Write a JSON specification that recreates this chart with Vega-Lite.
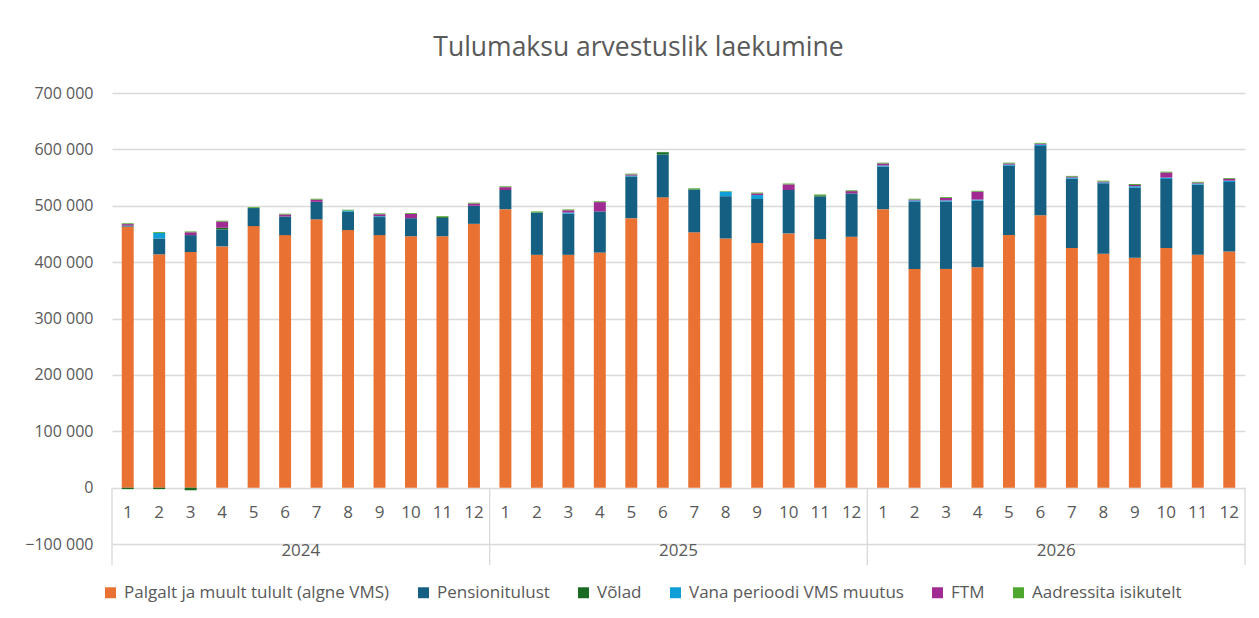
{
  "$schema": "https://vega.github.io/schema/vega-lite/v6.json",
  "width": 1133,
  "height": 472,
  "autosize": {"type": "none"},
  "padding": {"left": 112, "top": 93, "right": 14, "bottom": 53},
  "background": "white",
  "config": {
    "view": {"stroke": null},
    "font": "Open Sans",
    "text": {"font": "Open Sans"}
  },
  "title": {
    "text": "Tulumaksu arvestuslik laekumine",
    "fontSize": 26.5,
    "fontWeight": "normal",
    "color": "#595959",
    "font": "Open Sans",
    "anchor": "middle",
    "dx": -40,
    "offset": 24
  },
  "datasets": {
    "months": [
      {"ym": "2024-1", "m": 1, "pal": 463000, "pen": 2000, "vol": -2500, "vms": 0, "ftm": 2500, "aad": 1500},
      {"ym": "2024-2", "m": 2, "pal": 414000, "pen": 28000, "vol": -2500, "vms": 10000, "ftm": 0, "aad": 1500},
      {"ym": "2024-3", "m": 3, "pal": 418000, "pen": 30000, "vol": -4500, "vms": 0, "ftm": 5000, "aad": 1500},
      {"ym": "2024-4", "m": 4, "pal": 428000, "pen": 30000, "vol": 3000, "vms": 0, "ftm": 11000, "aad": 1500},
      {"ym": "2024-5", "m": 5, "pal": 464000, "pen": 32000, "vol": 0, "vms": 0, "ftm": 0, "aad": 1500},
      {"ym": "2024-6", "m": 6, "pal": 448000, "pen": 33000, "vol": 0, "vms": 0, "ftm": 3500, "aad": 1500},
      {"ym": "2024-7", "m": 7, "pal": 476000, "pen": 31000, "vol": 0, "vms": 0, "ftm": 4000, "aad": 1500},
      {"ym": "2024-8", "m": 8, "pal": 457000, "pen": 32500, "vol": 0, "vms": 2000, "ftm": 0, "aad": 1500},
      {"ym": "2024-9", "m": 9, "pal": 448000, "pen": 32000, "vol": 0, "vms": 1500, "ftm": 3500, "aad": 1500},
      {"ym": "2024-10", "m": 10, "pal": 446000, "pen": 32000, "vol": 0, "vms": 0, "ftm": 7500, "aad": 1500},
      {"ym": "2024-11", "m": 11, "pal": 446000, "pen": 32500, "vol": 1500, "vms": 0, "ftm": 0, "aad": 1500},
      {"ym": "2024-12", "m": 12, "pal": 468000, "pen": 32000, "vol": 0, "vms": 0, "ftm": 4000, "aad": 1500},
      {"ym": "2025-1", "m": 1, "pal": 494000, "pen": 34000, "vol": 0, "vms": 0, "ftm": 5000, "aad": 1500},
      {"ym": "2025-2", "m": 2, "pal": 413000, "pen": 75000, "vol": 0, "vms": 0, "ftm": 0, "aad": 2000},
      {"ym": "2025-3", "m": 3, "pal": 413000, "pen": 73000, "vol": 0, "vms": 2000, "ftm": 4000, "aad": 1500},
      {"ym": "2025-4", "m": 4, "pal": 417000, "pen": 73000, "vol": 0, "vms": 0, "ftm": 16500, "aad": 1500},
      {"ym": "2025-5", "m": 5, "pal": 478000, "pen": 74000, "vol": 0, "vms": 1500, "ftm": 2000, "aad": 1500},
      {"ym": "2025-6", "m": 6, "pal": 515000, "pen": 76000, "vol": 4000, "vms": 0, "ftm": 0, "aad": 500},
      {"ym": "2025-7", "m": 7, "pal": 453000, "pen": 76000, "vol": 0, "vms": 0, "ftm": 0, "aad": 2000},
      {"ym": "2025-8", "m": 8, "pal": 442000, "pen": 75000, "vol": 0, "vms": 8000, "ftm": 0, "aad": 1000},
      {"ym": "2025-9", "m": 9, "pal": 434000, "pen": 78000, "vol": 0, "vms": 7000, "ftm": 3000, "aad": 1500},
      {"ym": "2025-10", "m": 10, "pal": 451000, "pen": 77000, "vol": 0, "vms": 0, "ftm": 10000, "aad": 1500},
      {"ym": "2025-11", "m": 11, "pal": 441000, "pen": 75500, "vol": 2000, "vms": 0, "ftm": 0, "aad": 1500},
      {"ym": "2025-12", "m": 12, "pal": 445000, "pen": 77000, "vol": 0, "vms": 0, "ftm": 4000, "aad": 1500},
      {"ym": "2026-1", "m": 1, "pal": 494000, "pen": 75500, "vol": 0, "vms": 2000, "ftm": 3500, "aad": 1500},
      {"ym": "2026-2", "m": 2, "pal": 388000, "pen": 119500, "vol": 0, "vms": 2000, "ftm": 1500, "aad": 1500},
      {"ym": "2026-3", "m": 3, "pal": 388000, "pen": 119500, "vol": 0, "vms": 2000, "ftm": 4500, "aad": 1500},
      {"ym": "2026-4", "m": 4, "pal": 391000, "pen": 118000, "vol": 0, "vms": 2000, "ftm": 14000, "aad": 1500},
      {"ym": "2026-5", "m": 5, "pal": 448000, "pen": 123000, "vol": 0, "vms": 2000, "ftm": 2000, "aad": 1500},
      {"ym": "2026-6", "m": 6, "pal": 483000, "pen": 123000, "vol": 0, "vms": 2500, "ftm": 1500, "aad": 1500},
      {"ym": "2026-7", "m": 7, "pal": 425000, "pen": 123000, "vol": 0, "vms": 2000, "ftm": 1500, "aad": 1500},
      {"ym": "2026-8", "m": 8, "pal": 415000, "pen": 125000, "vol": 0, "vms": 1500, "ftm": 1500, "aad": 1500},
      {"ym": "2026-9", "m": 9, "pal": 408000, "pen": 124000, "vol": 0, "vms": 2500, "ftm": 2500, "aad": 1500},
      {"ym": "2026-10", "m": 10, "pal": 425000, "pen": 122500, "vol": 0, "vms": 2500, "ftm": 9000, "aad": 1500},
      {"ym": "2026-11", "m": 11, "pal": 413000, "pen": 124500, "vol": 0, "vms": 2000, "ftm": 1500, "aad": 1500},
      {"ym": "2026-12", "m": 12, "pal": 419000, "pen": 123000, "vol": 0, "vms": 2500, "ftm": 3000, "aad": 1500}
    ],
    "series": [
      {"code": "pal", "label": "Palgalt ja muult tulult (algne VMS)", "idx": 1},
      {"code": "pen", "label": "Pensionitulust", "idx": 2},
      {"code": "vol", "label": "Võlad", "idx": 3},
      {"code": "vms", "label": "Vana perioodi VMS muutus", "idx": 4},
      {"code": "ftm", "label": "FTM", "idx": 5},
      {"code": "aad", "label": "Aadressita isikutelt", "idx": 6}
    ],
    "years": [
      {"ym": "2024-7", "year": "2024"},
      {"ym": "2025-7", "year": "2025"},
      {"ym": "2026-7", "year": "2026"}
    ],
    "starts": [
      {"ym": "2024-1"},
      {"ym": "2025-1"},
      {"ym": "2026-1"}
    ],
    "ends": [
      {"ym": "2026-12"}
    ]
  },
  "encoding": {
    "x": {
      "field": "ym",
      "type": "ordinal",
      "scale": {
        "domain": ["2024-1","2024-2","2024-3","2024-4","2024-5","2024-6","2024-7","2024-8","2024-9","2024-10","2024-11","2024-12",
                   "2025-1","2025-2","2025-3","2025-4","2025-5","2025-6","2025-7","2025-8","2025-9","2025-10","2025-11","2025-12",
                   "2026-1","2026-2","2026-3","2026-4","2026-5","2026-6","2026-7","2026-8","2026-9","2026-10","2026-11","2026-12"],
        "paddingInner": 0,
        "paddingOuter": 0
      },
      "axis": null
    }
  },
  "layer": [
    {
      "data": {"name": "months"},
      "transform": [
        {"fold": ["pal", "pen", "vol", "vms", "ftm", "aad"], "as": ["code", "value"]},
        {"lookup": "code", "from": {"data": {"name": "series"}, "key": "code", "fields": ["label", "idx"]}}
      ],
      "mark": {"type": "bar", "width": {"band": 0.38}},
      "encoding": {
        "y": {
          "field": "value",
          "type": "quantitative",
          "stack": "zero",
          "scale": {"domain": [-137000, 700000], "nice": false, "zero": false},
          "axis": {
            "title": null,
            "values": [-100000, 0, 100000, 200000, 300000, 400000, 500000, 600000, 700000],
            "labelExpr": "replace(format(datum.value, ','), regexp(',', 'g'), ' ')",
            "domain": false,
            "ticks": false,
            "grid": true,
            "gridColor": "#d9d9d9",
            "gridWidth": 1.3,
            "labelFontSize": 16,
            "labelColor": "#595959",
            "labelPadding": 19,
            "labelFont": "Open Sans"
          }
        },
        "color": {
          "field": "label",
          "type": "nominal",
          "scale": {
            "domain": ["Palgalt ja muult tulult (algne VMS)", "Pensionitulust", "Võlad", "Vana perioodi VMS muutus", "FTM", "Aadressita isikutelt"],
            "range": ["#E97132", "#156082", "#196B24", "#0F9ED5", "#A02B93", "#4EA72E"]
          },
          "legend": {
            "title": null,
            "orient": "none",
            "direction": "horizontal",
            "legendX": -10,
            "legendY": 491,
            "symbolType": "square",
            "symbolSize": 120,
            "symbolStrokeWidth": 0,
            "labelFontSize": 17,
            "labelColor": "#595959",
            "labelFont": "Open Sans",
            "columnPadding": 25,
            "labelOffset": 5,
            "labelLimit": 400
          }
        },
        "order": {"field": "idx", "type": "quantitative", "sort": "ascending"}
      }
    },
    {
      "data": {"name": "months"},
      "mark": {"type": "text", "fontSize": 17, "color": "#595959", "baseline": "middle", "align": "center"},
      "encoding": {
        "y": {"datum": -45000, "type": "quantitative"},
        "text": {"field": "m", "type": "nominal"}
      }
    },
    {
      "data": {"name": "years"},
      "mark": {"type": "text", "fontSize": 17, "color": "#595959", "baseline": "middle", "align": "center"},
      "encoding": {
        "x": {"field": "ym", "type": "ordinal", "bandPosition": 0},
        "y": {"datum": -112000, "type": "quantitative"},
        "text": {"field": "year", "type": "nominal"}
      }
    },
    {
      "data": {"name": "starts"},
      "mark": {"type": "rule", "color": "#d9d9d9", "strokeWidth": 1.3},
      "encoding": {
        "x": {"field": "ym", "type": "ordinal", "bandPosition": 0},
        "y": {"datum": 0, "type": "quantitative"},
        "y2": {"datum": -137000}
      }
    },
    {
      "data": {"name": "ends"},
      "mark": {"type": "rule", "color": "#d9d9d9", "strokeWidth": 1.3},
      "encoding": {
        "x": {"field": "ym", "type": "ordinal", "bandPosition": 1},
        "y": {"datum": 0, "type": "quantitative"},
        "y2": {"datum": -137000}
      }
    }
  ]
}
